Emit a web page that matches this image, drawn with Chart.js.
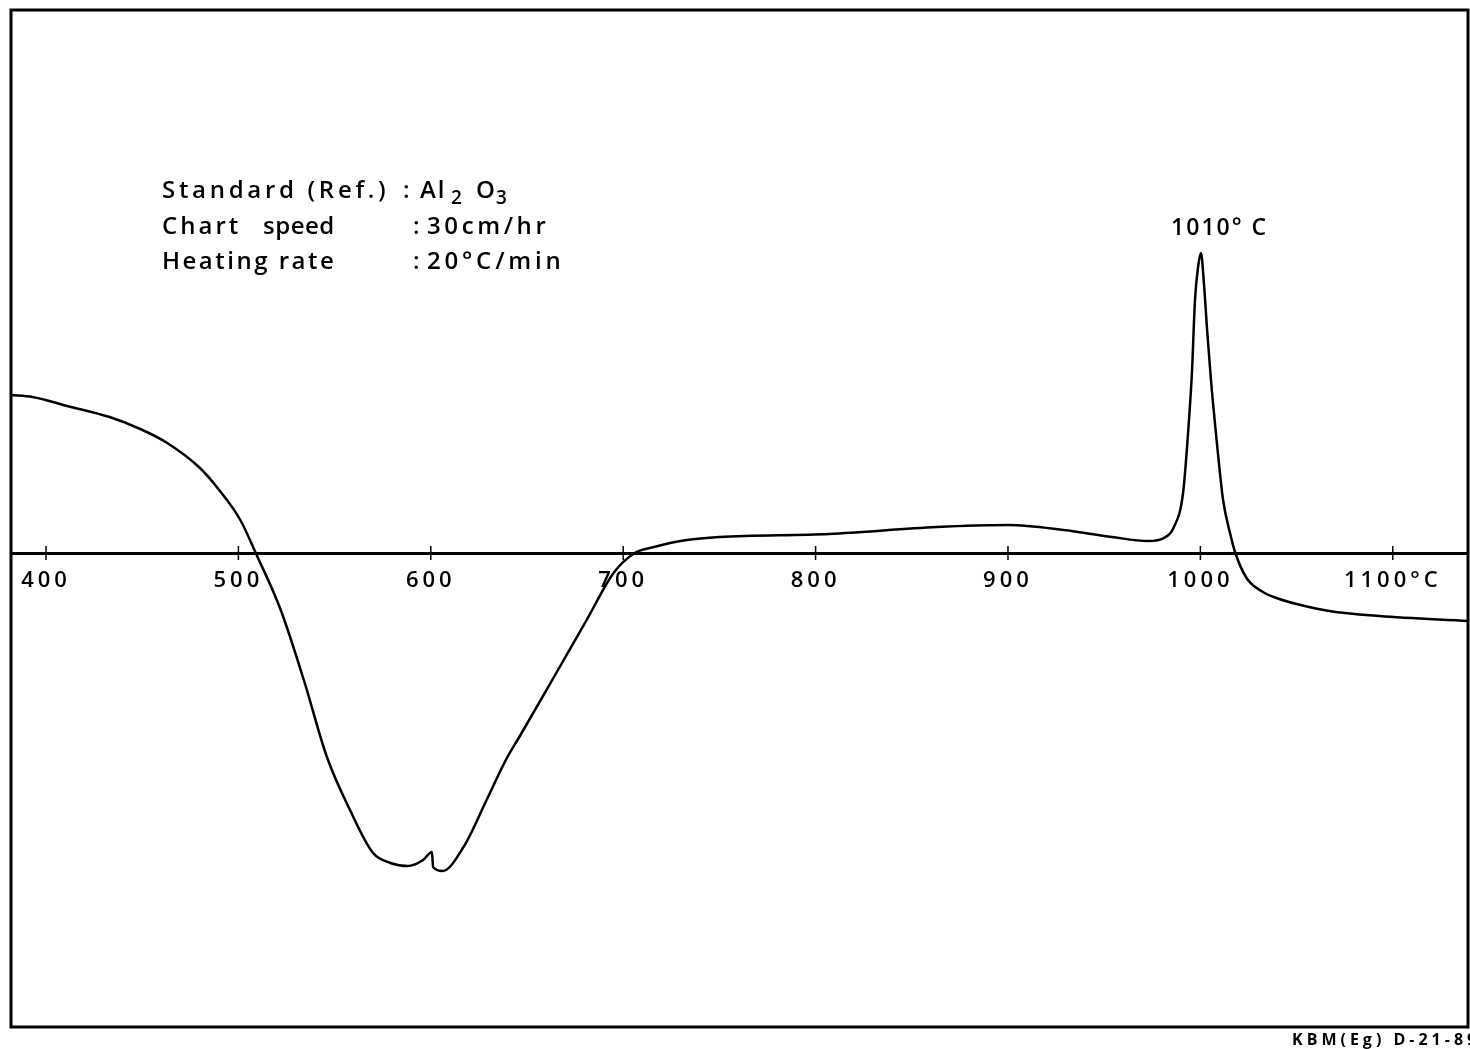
<!DOCTYPE html>
<html>
<head>
<meta charset="utf-8">
<script src="https://cdn.jsdelivr.net/npm/chart.js@4.4.1/dist/chart.umd.min.js"></script>
<style>
  html, body { margin: 0; padding: 0; background: #fff; }
  canvas { display: block; }
</style>
</head>
<body>
<canvas id="dtaChart" width="1470" height="1049"></canvas>
<script>
// temperature (°C)
const temperatures = [381.8, 393, 411, 433, 449, 463, 480, 490, 501, 509,
  522, 534, 546, 558, 570, 579, 588, 596, 600.6, 601.2,
  606, 617, 629, 639, 646, 664, 681, 695, 706, 716,
  733, 750, 807, 863, 900, 929, 954, 973, 981, 986,
  991, 993.6, 995.6, 997.2, 998.8, 1000.3, 1001.9, 1003.5, 1005.5, 1008.7,
  1011.8, 1015.4, 1018, 1024, 1032.5, 1041, 1050, 1067, 1093, 1139.1];

// DTA deflection from the base line (arbitrary units, up = exothermic)
const deflection = [158, 156, 147, 136, 124, 110, 85, 63, 33, 0,
  -57, -127, -204, -257, -300, -310, -313, -307, -299, -314,
  -318, -294, -247, -207, -184, -124, -67, -20, 0, 6,
  13, 16, 19, 26, 28, 23, 16, 12, 15, 25,
  60, 120, 180, 253, 286, 300, 268, 223, 173, 108,
  53, 20, 1, -25, -39, -46, -51, -58, -63, -68];

const tickValues = [400, 500, 600, 700, 800, 900, 1000, 1100];
const tickLabels = ['400', '500', '600', '700', '800', '900', '1000', '1100°C'];

const FONT = '"Open Sans", "DejaVu Sans", sans-serif';

function label(ctx, text, x, y, spacing) {
  ctx.letterSpacing = spacing + 'px';
  ctx.fillText(text, x, y);
}

const paperPlugin = {
  id: 'paper',
  beforeDraw(chart) {
    const ctx = chart.ctx;
    ctx.save();
    ctx.fillStyle = '#fff';
    ctx.fillRect(0, 0, chart.width, chart.height);
    ctx.restore();
    ctx.letterSpacing = '4px';
  },
  afterDraw(chart) {
    const { ctx, chartArea: a, scales: { x, y } } = chart;
    ctx.save();
    ctx.strokeStyle = '#000';
    ctx.fillStyle = '#000';

    // frame
    ctx.lineWidth = 3;
    ctx.strokeRect(a.left, a.top, a.right - a.left, a.bottom - a.top);

    // tick marks crossing the base line
    const y0 = y.getPixelForValue(0);
    ctx.lineWidth = 1.5;
    tickValues.forEach(v => {
      const px = x.getPixelForValue(v);
      ctx.beginPath();
      ctx.moveTo(px, y0 - 7);
      ctx.lineTo(px, y0 + 7);
      ctx.stroke();
    });

    // run conditions
    ctx.textAlign = 'left';
    ctx.textBaseline = 'alphabetic';
    ctx.font = '600 24px ' + FONT;
    label(ctx, 'Standard (Ref.)', 162, 198, 3.7);
    label(ctx, ':', 403, 198, 2);
    label(ctx, 'Al', 420, 198, 2);
    label(ctx, 'O', 476, 198, 2);
    label(ctx, 'Chart', 162, 234, 3);
    label(ctx, 'speed', 263, 234, 0.5);
    label(ctx, ':', 413, 234, 2);
    label(ctx, '30cm/hr', 427, 234, 3.6);
    label(ctx, 'Heating rate', 162, 269, 2.5);
    label(ctx, ':', 413, 269, 2);
    label(ctx, '20°C/min', 427, 269, 3.8);
    ctx.font = '600 19px ' + FONT;
    label(ctx, '2', 451, 204, 2);
    label(ctx, '3', 496, 204, 2);

    // peak label
    ctx.font = '600 23px ' + FONT;
    ctx.textAlign = 'center';
    label(ctx, '1010° C', x.getPixelForValue(1010), 235, 2);

    // plate number
    ctx.font = 'bold 16px ' + FONT;
    ctx.textAlign = 'left';
    label(ctx, 'KBM(Eg) D-21-89', 1292, 1045, 4);
    ctx.restore();
  }
};

const points = temperatures.map((t, i) => ({ x: t, y: deflection[i] }));

new Chart(document.getElementById('dtaChart'), {
  type: 'line',
  data: {
    datasets: [{
      data: points,
      borderColor: '#000',
      borderWidth: 2.5,
      pointRadius: 0,
      fill: false,
      cubicInterpolationMode: 'monotone'
    }]
  },
  options: {
    responsive: false,
    animation: false,
    layout: { padding: { left: 11, top: 10, right: 2, bottom: 22 } },
    plugins: {
      legend: { display: false },
      tooltip: { enabled: false }
    },
    scales: {
      x: {
        type: 'linear',
        min: 381.8,
        max: 1139.1,
        position: { y: 0 },
        afterBuildTicks: scale => {
          scale.ticks = tickValues.map(v => ({ value: v }));
        },
        grid: { display: false, drawTicks: false },
        border: { display: true, color: '#000', width: 3 },
        ticks: {
          padding: 15,
          color: '#000',
          maxRotation: 0,
          autoSkip: false,
          font: { family: FONT, size: 22, weight: '600' },
          callback: value => {
            const i = tickValues.indexOf(value);
            return i >= 0 ? tickLabels[i] : '';
          }
        }
      },
      y: {
        type: 'linear',
        display: false,
        min: -474,
        max: 543
      }
    }
  },
  plugins: [paperPlugin]
});
</script>
</body>
</html>
